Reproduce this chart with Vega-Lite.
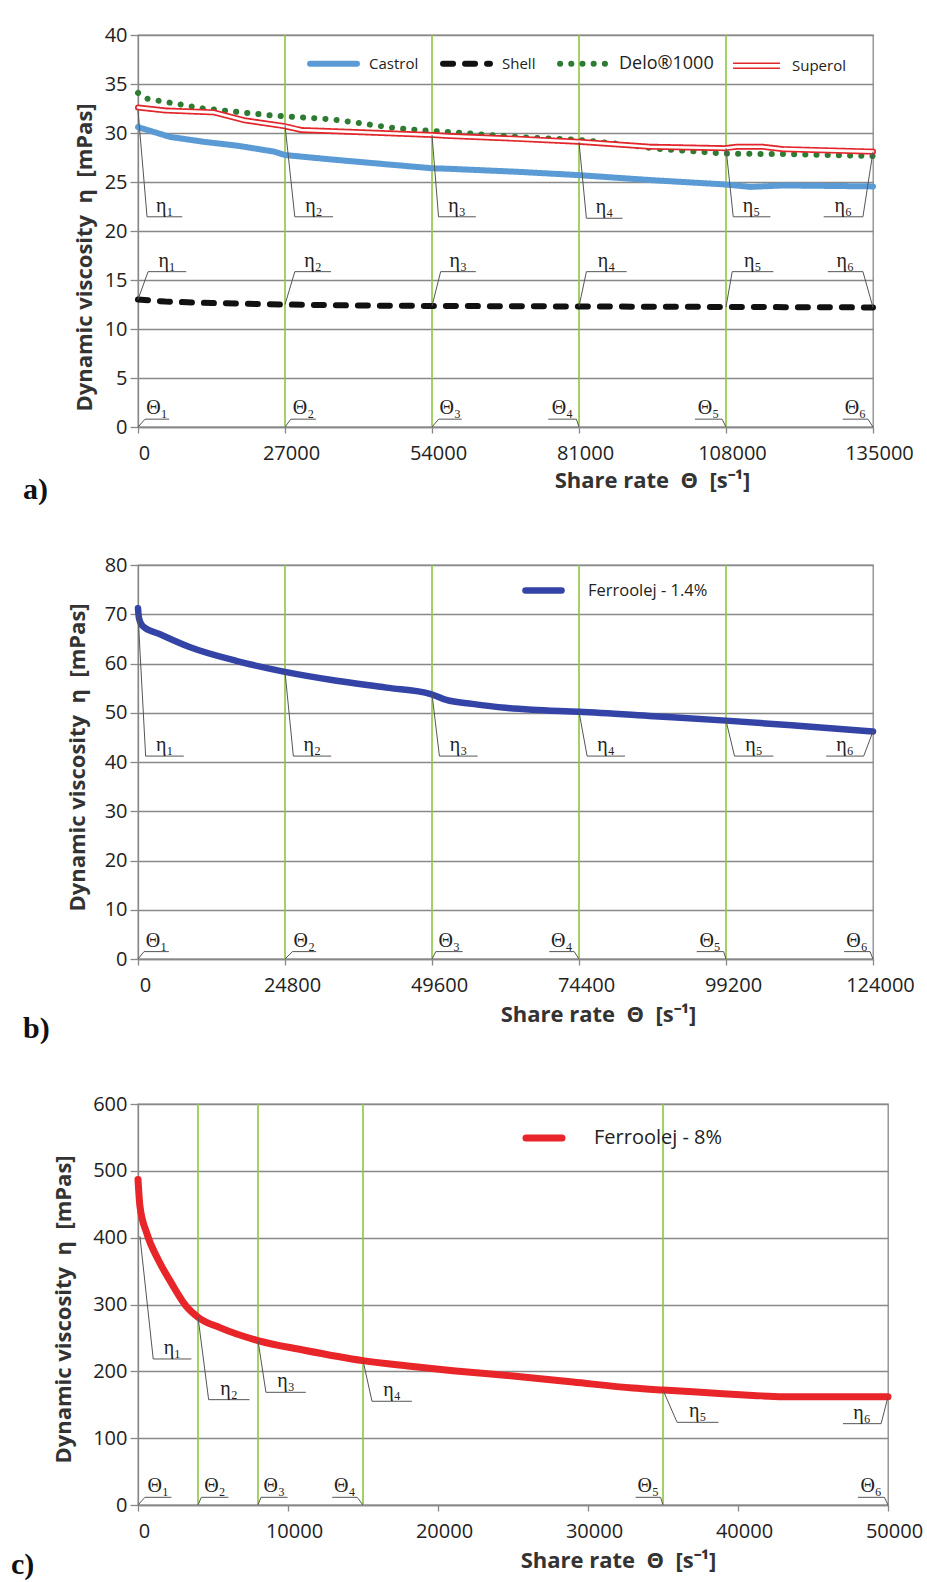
{
  "$schema": "https://vega.github.io/schema/vega-lite/v6.json",
  "background": "white",
  "padding": {"left": 10, "top": 24, "right": 0, "bottom": 0},
  "spacing": 48,
  "config": {
    "font": "Open Sans",
    "view": {"stroke": "#888", "strokeWidth": 1.3},
    "axis": {"gridColor": "#888", "gridWidth": 1.3, "domainColor": "#888", "domainWidth": 1.3, "tickColor": "#888", "tickWidth": 1.3, "tickSize": 6,
      "labelFont": "Open Sans", "labelFontSize": 20, "labelColor": "#222", "labelPadding": 10,
      "titleFont": "Open Sans", "titleFontSize": 22, "titleFontWeight": "bold", "titleColor": "#333"},
    "legend": {"orient": "none", "direction": "horizontal", "title": null, "padding": 0, "symbolType": "stroke", "labelFont": "Open Sans", "labelColor": "#222"}
  },
  "resolve": {"scale": {"x": "independent", "y": "independent", "color": "independent", "strokeDash": "independent"}},
  "datasets": {
    "a_green": [{"x": 27000}, {"x": 54000}, {"x": 81000}, {"x": 108000}],
    "b_green": [{"x": 24800}, {"x": 49600}, {"x": 74400}, {"x": 99200}],
    "c_green": [{"x": 4000}, {"x": 8000}, {"x": 15000}, {"x": 35000}],
    "a_curves": [
      {"s": "Castrol", "x": 0, "y": 30.6}, {"s": "Castrol", "x": 5900, "y": 29.6}, {"s": "Castrol", "x": 12100, "y": 29.1}, {"s": "Castrol", "x": 18300, "y": 28.7}, {"s": "Castrol", "x": 25000, "y": 28.1}, {"s": "Castrol", "x": 27000, "y": 27.75}, {"s": "Castrol", "x": 35500, "y": 27.3}, {"s": "Castrol", "x": 47800, "y": 26.7}, {"s": "Castrol", "x": 54000, "y": 26.4}, {"s": "Castrol", "x": 57000, "y": 26.35}, {"s": "Castrol", "x": 69400, "y": 26.05}, {"s": "Castrol", "x": 81000, "y": 25.7}, {"s": "Castrol", "x": 94000, "y": 25.2}, {"s": "Castrol", "x": 107800, "y": 24.75}, {"s": "Castrol", "x": 112500, "y": 24.5}, {"s": "Castrol", "x": 118600, "y": 24.65}, {"s": "Castrol", "x": 135000, "y": 24.55},
      {"s": "Shell", "x": 0, "y": 13.0}, {"s": "Shell", "x": 5000, "y": 12.8}, {"s": "Shell", "x": 13500, "y": 12.65}, {"s": "Shell", "x": 27000, "y": 12.5}, {"s": "Shell", "x": 40000, "y": 12.4}, {"s": "Shell", "x": 54000, "y": 12.35}, {"s": "Shell", "x": 81000, "y": 12.3}, {"s": "Shell", "x": 108000, "y": 12.25}, {"s": "Shell", "x": 135000, "y": 12.2},
      {"s": "Delo®1000", "x": 0, "y": 34.1}, {"s": "Delo®1000", "x": 1700, "y": 33.5}, {"s": "Delo®1000", "x": 12000, "y": 32.5}, {"s": "Delo®1000", "x": 24400, "y": 31.8}, {"s": "Delo®1000", "x": 35500, "y": 31.4}, {"s": "Delo®1000", "x": 47200, "y": 30.5}, {"s": "Delo®1000", "x": 54000, "y": 30.2}, {"s": "Delo®1000", "x": 57000, "y": 30.1}, {"s": "Delo®1000", "x": 69400, "y": 29.6}, {"s": "Delo®1000", "x": 81000, "y": 29.3}, {"s": "Delo®1000", "x": 88000, "y": 28.9}, {"s": "Delo®1000", "x": 95200, "y": 28.4}, {"s": "Delo®1000", "x": 107800, "y": 27.9}, {"s": "Delo®1000", "x": 118600, "y": 27.85}, {"s": "Delo®1000", "x": 135000, "y": 27.65},
      {"s": "Superol", "x": 0, "y": 32.6}, {"s": "Superol", "x": 5000, "y": 32.3}, {"s": "Superol", "x": 14000, "y": 32.1}, {"s": "Superol", "x": 19500, "y": 31.3}, {"s": "Superol", "x": 26900, "y": 30.7}, {"s": "Superol", "x": 30000, "y": 30.3}, {"s": "Superol", "x": 40000, "y": 30.1}, {"s": "Superol", "x": 54000, "y": 29.8}, {"s": "Superol", "x": 57000, "y": 29.7}, {"s": "Superol", "x": 70000, "y": 29.4}, {"s": "Superol", "x": 81000, "y": 29.1}, {"s": "Superol", "x": 94000, "y": 28.6}, {"s": "Superol", "x": 107800, "y": 28.45}, {"s": "Superol", "x": 110000, "y": 28.6}, {"s": "Superol", "x": 114600, "y": 28.6}, {"s": "Superol", "x": 118600, "y": 28.35}, {"s": "Superol", "x": 135000, "y": 28.1}
    ],
    "a_ann": [
      {"lab": "η₁", "x0": 0, "y0": 32.3, "x1": 1660, "y1": 21.45, "x2": 8130, "tx": 4900},
      {"lab": "η₂", "x0": 27000, "y0": 30.8, "x1": 28800, "y1": 21.45, "x2": 35830, "tx": 32300},
      {"lab": "η₃", "x0": 54000, "y0": 29.8, "x1": 55200, "y1": 21.45, "x2": 62050, "tx": 58600},
      {"lab": "η₄", "x0": 81000, "y0": 29.1, "x1": 82360, "y1": 21.3, "x2": 89000, "tx": 85700},
      {"lab": "η₅", "x0": 108000, "y0": 28.45, "x1": 109330, "y1": 21.45, "x2": 116160, "tx": 112700},
      {"lab": "η₆", "x0": 135000, "y0": 28.1, "x1": 133150, "y1": 21.45, "x2": 125950, "tx": 129550},
      {"lab": "η₁", "x0": 0, "y0": 13.0, "x1": 1850, "y1": 15.85, "x2": 8860, "tx": 5350},
      {"lab": "η₂", "x0": 27000, "y0": 12.5, "x1": 28800, "y1": 15.85, "x2": 35460, "tx": 32130},
      {"lab": "η₃", "x0": 54000, "y0": 12.35, "x1": 55590, "y1": 15.85, "x2": 62050, "tx": 58820},
      {"lab": "η₄", "x0": 81000, "y0": 12.3, "x1": 82360, "y1": 15.85, "x2": 89750, "tx": 86050},
      {"lab": "η₅", "x0": 108000, "y0": 12.25, "x1": 109140, "y1": 15.85, "x2": 116710, "tx": 112920},
      {"lab": "η₆", "x0": 135000, "y0": 12.2, "x1": 133150, "y1": 15.85, "x2": 126690, "tx": 129920},
      {"lab": "Θ₁", "x0": 0, "y0": 0, "x1": 1290, "y1": 0.8, "x2": 5720, "tx": 3500},
      {"lab": "Θ₂", "x0": 27000, "y0": 0, "x1": 28070, "y1": 0.8, "x2": 32690, "tx": 30380},
      {"lab": "Θ₃", "x0": 54000, "y0": 0, "x1": 55220, "y1": 0.8, "x2": 59460, "tx": 57340},
      {"lab": "Θ₄", "x0": 81000, "y0": 0, "x1": 80520, "y1": 0.8, "x2": 75350, "tx": 77940},
      {"lab": "Θ₅", "x0": 108000, "y0": 0, "x1": 107290, "y1": 0.8, "x2": 102300, "tx": 104800},
      {"lab": "Θ₆", "x0": 135000, "y0": 0, "x1": 134070, "y1": 0.8, "x2": 129450, "tx": 131760}
    ],
    "b_curves": [
      {"s": "Ferroolej - 1.4%", "x": 0, "y": 71.2}, {"s": "Ferroolej - 1.4%", "x": 150, "y": 69.3}, {"s": "Ferroolej - 1.4%", "x": 800, "y": 67.6}, {"s": "Ferroolej - 1.4%", "x": 3800, "y": 65.9}, {"s": "Ferroolej - 1.4%", "x": 8800, "y": 63.3}, {"s": "Ferroolej - 1.4%", "x": 16700, "y": 60.5}, {"s": "Ferroolej - 1.4%", "x": 24800, "y": 58.3}, {"s": "Ferroolej - 1.4%", "x": 33500, "y": 56.5}, {"s": "Ferroolej - 1.4%", "x": 41900, "y": 55.1}, {"s": "Ferroolej - 1.4%", "x": 49400, "y": 53.8}, {"s": "Ferroolej - 1.4%", "x": 52000, "y": 52.6}, {"s": "Ferroolej - 1.4%", "x": 56400, "y": 51.8}, {"s": "Ferroolej - 1.4%", "x": 62000, "y": 51.0}, {"s": "Ferroolej - 1.4%", "x": 66500, "y": 50.6}, {"s": "Ferroolej - 1.4%", "x": 74400, "y": 50.2}, {"s": "Ferroolej - 1.4%", "x": 87000, "y": 49.3}, {"s": "Ferroolej - 1.4%", "x": 99200, "y": 48.4}, {"s": "Ferroolej - 1.4%", "x": 111900, "y": 47.3}, {"s": "Ferroolej - 1.4%", "x": 124000, "y": 46.2}
    ],
    "b_ann": [
      {"lab": "η₁", "x0": 0, "y0": 70.0, "x1": 1290, "y1": 41.2, "x2": 7730, "tx": 4510},
      {"lab": "η₂", "x0": 24800, "y0": 58.3, "x1": 26210, "y1": 41.2, "x2": 32590, "tx": 29400},
      {"lab": "η₃", "x0": 49600, "y0": 53.8, "x1": 50850, "y1": 41.2, "x2": 57290, "tx": 54070},
      {"lab": "η₄", "x0": 74400, "y0": 50.2, "x1": 75770, "y1": 41.2, "x2": 82160, "tx": 78960},
      {"lab": "η₅", "x0": 99200, "y0": 48.4, "x1": 100640, "y1": 41.2, "x2": 107190, "tx": 103910},
      {"lab": "η₆", "x0": 124000, "y0": 46.2, "x1": 122430, "y1": 41.2, "x2": 116100, "tx": 119260},
      {"lab": "Θ₁", "x0": 0, "y0": 0, "x1": 1010, "y1": 1.5, "x2": 5210, "tx": 3110},
      {"lab": "Θ₂", "x0": 24800, "y0": 0, "x1": 26040, "y1": 1.5, "x2": 30070, "tx": 28050},
      {"lab": "Θ₃", "x0": 49600, "y0": 0, "x1": 50240, "y1": 1.5, "x2": 54770, "tx": 52500},
      {"lab": "Θ₄", "x0": 74400, "y0": 0, "x1": 73590, "y1": 1.5, "x2": 69390, "tx": 71490},
      {"lab": "Θ₅", "x0": 99200, "y0": 0, "x1": 98790, "y1": 1.5, "x2": 94250, "tx": 96520},
      {"lab": "Θ₆", "x0": 124000, "y0": 0, "x1": 123500, "y1": 1.5, "x2": 119120, "tx": 121310}
    ],
    "c_curves": [
      {"s": "Ferroolej - 8%", "x": 0, "y": 487}, {"s": "Ferroolej - 8%", "x": 130, "y": 447}, {"s": "Ferroolej - 8%", "x": 580, "y": 407}, {"s": "Ferroolej - 8%", "x": 1350, "y": 367}, {"s": "Ferroolej - 8%", "x": 2230, "y": 332}, {"s": "Ferroolej - 8%", "x": 3230, "y": 297}, {"s": "Ferroolej - 8%", "x": 4000, "y": 281}, {"s": "Ferroolej - 8%", "x": 5500, "y": 265}, {"s": "Ferroolej - 8%", "x": 8000, "y": 246}, {"s": "Ferroolej - 8%", "x": 11000, "y": 232}, {"s": "Ferroolej - 8%", "x": 15000, "y": 216}, {"s": "Ferroolej - 8%", "x": 18000, "y": 208}, {"s": "Ferroolej - 8%", "x": 21000, "y": 201}, {"s": "Ferroolej - 8%", "x": 25000, "y": 193}, {"s": "Ferroolej - 8%", "x": 29000, "y": 184}, {"s": "Ferroolej - 8%", "x": 33000, "y": 175}, {"s": "Ferroolej - 8%", "x": 35000, "y": 172}, {"s": "Ferroolej - 8%", "x": 38000, "y": 168}, {"s": "Ferroolej - 8%", "x": 41000, "y": 164}, {"s": "Ferroolej - 8%", "x": 43000, "y": 162}, {"s": "Ferroolej - 8%", "x": 50000, "y": 162}
    ],
    "c_ann": [
      {"lab": "η₁", "x0": 130, "y0": 402, "x1": 1015, "y1": 218.5, "x2": 3560, "tx": 2290},
      {"lab": "η₂", "x0": 4000, "y0": 281, "x1": 4710, "y1": 157.6, "x2": 7430, "tx": 6070},
      {"lab": "η₃", "x0": 8000, "y0": 246, "x1": 8530, "y1": 168.6, "x2": 11190, "tx": 9860},
      {"lab": "η₄", "x0": 15000, "y0": 216, "x1": 15600, "y1": 155.2, "x2": 18260, "tx": 16930},
      {"lab": "η₅", "x0": 35000, "y0": 172, "x1": 35940, "y1": 123.7, "x2": 38700, "tx": 37320},
      {"lab": "η₆", "x0": 50000, "y0": 162, "x1": 49540, "y1": 121.7, "x2": 47000, "tx": 48270},
      {"lab": "Θ₁", "x0": 0, "y0": 0, "x1": 460, "y1": 11.5, "x2": 2230, "tx": 1345},
      {"lab": "Θ₂", "x0": 4000, "y0": 0, "x1": 4220, "y1": 11.5, "x2": 6030, "tx": 5125},
      {"lab": "Θ₃", "x0": 8000, "y0": 0, "x1": 8200, "y1": 11.5, "x2": 9970, "tx": 9085},
      {"lab": "Θ₄", "x0": 15000, "y0": 0, "x1": 14610, "y1": 11.5, "x2": 12950, "tx": 13780},
      {"lab": "Θ₅", "x0": 35000, "y0": 0, "x1": 34840, "y1": 11.5, "x2": 33180, "tx": 34010},
      {"lab": "Θ₆", "x0": 50000, "y0": 0, "x1": 49760, "y1": 11.5, "x2": 47990, "tx": 48875}
    ]
  },
  "vconcat": [
    {
      "width": 735, "height": 392,
      "title": {"text": "a)", "orient": "bottom", "anchor": "start", "frame": "group", "font": "Liberation Serif", "fontSize": 30, "fontWeight": "bold", "color": "#111", "dx": -115, "offset": -16},
      "layer": [
        {"data": {"name": "a_green"}, "mark": {"type": "rule", "color": "#8DC63F", "strokeWidth": 1.6},
          "encoding": {
            "x": {"field": "x", "type": "quantitative", "title": "Share rate\u00a0\u00a0Θ\u00a0\u00a0[s⁻¹]", "scale": {"domain": [0, 135000], "nice": false, "zero": false},
              "axis": {"values": [0, 27000, 54000, 81000, 108000, 135000], "format": "d", "grid": false, "labelFlush": false, "labelOverlap": false, "labelOffset": 6, "titleX": 514, "titleY": 53, "titleAlign": "center", "titleBaseline": "middle"}}
          }},
        {"data": {"name": "a_curves"}, "mark": {"type": "line", "strokeWidth": 6, "strokeCap": "round", "strokeJoin": "round"},
          "encoding": {
            "x": {"field": "x", "type": "quantitative", "title": "Share rate\u00a0\u00a0Θ\u00a0\u00a0[s⁻¹]"},
            "y": {"field": "y", "type": "quantitative", "title": "Dynamic viscosity\u00a0\u00a0η\u00a0\u00a0[mPas]", "scale": {"domain": [0, 40], "nice": false, "zero": false},
              "axis": {"values": [0, 5, 10, 15, 20, 25, 30, 35, 40], "tickSize": 8, "labelPadding": 3, "titleX": -54, "titleY": 222, "titleAlign": "center", "titleBaseline": "middle"}},
            "color": {"field": "s", "type": "nominal", "sort": ["Castrol", "Shell", "Delo®1000", "Superol"],
              "scale": {"domain": ["Castrol", "Shell", "Delo®1000", "Superol"], "range": ["#5B9BD5", "#111111", "#2E7B32", "#E3262B"]},
              "legend": {"legendX": 169, "legendY": 2, "symbolSize": 2200, "symbolStrokeWidth": 6, "labelFontSize": 15, "labelOffset": 9, "columnPadding": 12,
                "encode": {"symbols": {"update": {"strokeCap": {"value": "round"}, "shape": {"signal": "datum.value === 'Superol' ? 'M-1.26,0M-1,-0.135H1V-0.075H-1ZM-1,0.075H1V0.135H-1Z' : 'stroke'"}, "fill": {"signal": "datum.value === 'Superol' ? '#E3262B' : 'transparent'"}, "strokeOpacity": {"signal": "datum.value === 'Superol' ? 0 : 1"}}}, "labels": {"update": {"fontSize": {"signal": "datum.value === 'Delo®1000' ? 18 : 15"}}}}}},
            "strokeDash": {"field": "s", "type": "nominal", "sort": ["Castrol", "Shell", "Delo®1000", "Superol"],
              "scale": {"domain": ["Castrol", "Shell", "Delo®1000", "Superol"], "range": [[1, 0], [10, 12], [0.1, 11.1], [1, 0]]},
              "legend": {"legendX": 169, "legendY": 2, "symbolSize": 2200, "symbolStrokeWidth": 6, "labelFontSize": 15, "labelOffset": 9, "columnPadding": 12,
                "encode": {"symbols": {"update": {"strokeCap": {"value": "round"}, "shape": {"signal": "datum.value === 'Superol' ? 'M-1.26,0M-1,-0.135H1V-0.075H-1ZM-1,0.075H1V0.135H-1Z' : 'stroke'"}, "fill": {"signal": "datum.value === 'Superol' ? '#E3262B' : 'transparent'"}, "strokeOpacity": {"signal": "datum.value === 'Superol' ? 0 : 1"}}}, "labels": {"update": {"fontSize": {"signal": "datum.value === 'Delo®1000' ? 18 : 15"}}}}}}
          }},
        {"data": {"name": "a_curves"}, "transform": [{"filter": "datum.s === 'Superol'"}],
          "mark": {"type": "line", "strokeWidth": 2.6, "color": "white", "strokeCap": "round", "strokeJoin": "round"},
          "encoding": {
            "x": {"field": "x", "type": "quantitative", "title": "Share rate\u00a0\u00a0Θ\u00a0\u00a0[s⁻¹]"},
            "y": {"field": "y", "type": "quantitative", "title": "Dynamic viscosity\u00a0\u00a0η\u00a0\u00a0[mPas]"}
          }},
        {"data": {"name": "a_ann"}, "mark": {"type": "rule", "color": "#555", "strokeWidth": 1},
          "encoding": {
            "x": {"field": "x0", "type": "quantitative", "title": "Share rate\u00a0\u00a0Θ\u00a0\u00a0[s⁻¹]"}, "x2": {"field": "x1", "title": "Share rate\u00a0\u00a0Θ\u00a0\u00a0[s⁻¹]"},
            "y": {"field": "y0", "type": "quantitative", "title": "Dynamic viscosity\u00a0\u00a0η\u00a0\u00a0[mPas]"}, "y2": {"field": "y1", "title": "Dynamic viscosity\u00a0\u00a0η\u00a0\u00a0[mPas]"}
          }},
        {"data": {"name": "a_ann"}, "mark": {"type": "rule", "color": "#555", "strokeWidth": 1},
          "encoding": {
            "x": {"field": "x1", "type": "quantitative", "title": "Share rate\u00a0\u00a0Θ\u00a0\u00a0[s⁻¹]"}, "x2": {"field": "x2", "title": "Share rate\u00a0\u00a0Θ\u00a0\u00a0[s⁻¹]"},
            "y": {"field": "y1", "type": "quantitative", "title": "Dynamic viscosity\u00a0\u00a0η\u00a0\u00a0[mPas]"}
          }},
        {"data": {"name": "a_ann"}, "mark": {"type": "text", "font": "Liberation Serif", "fontSize": 20, "color": "#222", "baseline": "alphabetic", "dy": -5},
          "encoding": {
            "x": {"field": "tx", "type": "quantitative", "title": "Share rate\u00a0\u00a0Θ\u00a0\u00a0[s⁻¹]"},
            "y": {"field": "y1", "type": "quantitative", "title": "Dynamic viscosity\u00a0\u00a0η\u00a0\u00a0[mPas]"},
            "text": {"field": "lab"}
          }}
      ]
    },
    {
      "width": 735, "height": 394,
      "title": {"text": "b)", "orient": "bottom", "anchor": "start", "frame": "group", "font": "Liberation Serif", "fontSize": 30, "fontWeight": "bold", "color": "#111", "dx": -115, "offset": -11},
      "layer": [
        {"data": {"name": "b_green"}, "mark": {"type": "rule", "color": "#8DC63F", "strokeWidth": 1.6},
          "encoding": {
            "x": {"field": "x", "type": "quantitative", "title": "Share rate\u00a0\u00a0Θ\u00a0\u00a0[s⁻¹]", "scale": {"domain": [0, 124000], "nice": false, "zero": false},
              "axis": {"values": [0, 24800, 49600, 74400, 99200, 124000], "format": "d", "grid": false, "labelFlush": false, "labelOverlap": false, "labelOffset": 7, "titleX": 460, "titleY": 55, "titleAlign": "center", "titleBaseline": "middle"}}
          }},
        {"data": {"name": "b_curves"}, "mark": {"type": "line", "strokeWidth": 6.5, "strokeCap": "round", "strokeJoin": "round", "interpolate": "monotone"},
          "encoding": {
            "x": {"field": "x", "type": "quantitative", "title": "Share rate\u00a0\u00a0Θ\u00a0\u00a0[s⁻¹]"},
            "y": {"field": "y", "type": "quantitative", "title": "Dynamic viscosity\u00a0\u00a0η\u00a0\u00a0[mPas]", "scale": {"domain": [0, 80], "nice": false, "zero": false},
              "axis": {"values": [0, 10, 20, 30, 40, 50, 60, 70, 80], "tickSize": 8, "labelPadding": 3, "titleX": -61, "titleY": 192, "titleAlign": "center", "titleBaseline": "middle"}},
            "color": {"field": "s", "type": "nominal",
              "scale": {"domain": ["Ferroolej - 1.4%"], "range": ["#3343A6"]},
              "legend": {"legendX": 384, "legendY": 4, "symbolSize": 1300, "symbolStrokeWidth": 6.5, "labelFontSize": 16.5, "labelOffset": 23,
                "encode": {"symbols": {"update": {"strokeCap": {"value": "round"}}}}}}
          }},
        {"data": {"name": "b_ann"}, "mark": {"type": "rule", "color": "#555", "strokeWidth": 1},
          "encoding": {
            "x": {"field": "x0", "type": "quantitative", "title": "Share rate\u00a0\u00a0Θ\u00a0\u00a0[s⁻¹]"}, "x2": {"field": "x1", "title": "Share rate\u00a0\u00a0Θ\u00a0\u00a0[s⁻¹]"},
            "y": {"field": "y0", "type": "quantitative", "title": "Dynamic viscosity\u00a0\u00a0η\u00a0\u00a0[mPas]"}, "y2": {"field": "y1", "title": "Dynamic viscosity\u00a0\u00a0η\u00a0\u00a0[mPas]"}
          }},
        {"data": {"name": "b_ann"}, "mark": {"type": "rule", "color": "#555", "strokeWidth": 1},
          "encoding": {
            "x": {"field": "x1", "type": "quantitative", "title": "Share rate\u00a0\u00a0Θ\u00a0\u00a0[s⁻¹]"}, "x2": {"field": "x2", "title": "Share rate\u00a0\u00a0Θ\u00a0\u00a0[s⁻¹]"},
            "y": {"field": "y1", "type": "quantitative", "title": "Dynamic viscosity\u00a0\u00a0η\u00a0\u00a0[mPas]"}
          }},
        {"data": {"name": "b_ann"}, "mark": {"type": "text", "font": "Liberation Serif", "fontSize": 20, "color": "#222", "baseline": "alphabetic", "dy": -5},
          "encoding": {
            "x": {"field": "tx", "type": "quantitative", "title": "Share rate\u00a0\u00a0Θ\u00a0\u00a0[s⁻¹]"},
            "y": {"field": "y1", "type": "quantitative", "title": "Dynamic viscosity\u00a0\u00a0η\u00a0\u00a0[mPas]"},
            "text": {"field": "lab"}
          }}
      ]
    },
    {
      "width": 750, "height": 401,
      "title": {"text": "c)", "orient": "bottom", "anchor": "start", "frame": "group", "font": "Liberation Serif", "fontSize": 30, "fontWeight": "bold", "color": "#111", "dx": -127, "offset": -21},
      "layer": [
        {"data": {"name": "c_green"}, "mark": {"type": "rule", "color": "#8DC63F", "strokeWidth": 1.6},
          "encoding": {
            "x": {"field": "x", "type": "quantitative", "title": "Share rate\u00a0\u00a0Θ\u00a0\u00a0[s⁻¹]", "scale": {"domain": [0, 50000], "nice": false, "zero": false},
              "axis": {"values": [0, 10000, 20000, 30000, 40000, 50000], "format": "d", "grid": false, "labelFlush": false, "labelOverlap": false, "labelOffset": 6, "titleX": 480, "titleY": 55, "titleAlign": "center", "titleBaseline": "middle"}}
          }},
        {"data": {"name": "c_curves"}, "mark": {"type": "line", "strokeWidth": 7, "strokeCap": "round", "strokeJoin": "round", "interpolate": "monotone"},
          "encoding": {
            "x": {"field": "x", "type": "quantitative", "title": "Share rate\u00a0\u00a0Θ\u00a0\u00a0[s⁻¹]"},
            "y": {"field": "y", "type": "quantitative", "title": "Dynamic viscosity\u00a0\u00a0η\u00a0\u00a0[mPas]", "scale": {"domain": [0, 600], "nice": false, "zero": false},
              "axis": {"values": [0, 100, 200, 300, 400, 500, 600], "tickSize": 8, "labelPadding": 3, "titleX": -75, "titleY": 205, "titleAlign": "center", "titleBaseline": "middle"}},
            "color": {"field": "s", "type": "nominal",
              "scale": {"domain": ["Ferroolej - 8%"], "range": ["#E8262A"]},
              "legend": {"legendX": 384, "legendY": 12, "symbolSize": 1300, "symbolStrokeWidth": 7, "labelFontSize": 20, "labelOffset": 28,
                "encode": {"symbols": {"update": {"strokeCap": {"value": "round"}}}}}}
          }},
        {"data": {"name": "c_ann"}, "mark": {"type": "rule", "color": "#555", "strokeWidth": 1},
          "encoding": {
            "x": {"field": "x0", "type": "quantitative", "title": "Share rate\u00a0\u00a0Θ\u00a0\u00a0[s⁻¹]"}, "x2": {"field": "x1", "title": "Share rate\u00a0\u00a0Θ\u00a0\u00a0[s⁻¹]"},
            "y": {"field": "y0", "type": "quantitative", "title": "Dynamic viscosity\u00a0\u00a0η\u00a0\u00a0[mPas]"}, "y2": {"field": "y1", "title": "Dynamic viscosity\u00a0\u00a0η\u00a0\u00a0[mPas]"}
          }},
        {"data": {"name": "c_ann"}, "mark": {"type": "rule", "color": "#555", "strokeWidth": 1},
          "encoding": {
            "x": {"field": "x1", "type": "quantitative", "title": "Share rate\u00a0\u00a0Θ\u00a0\u00a0[s⁻¹]"}, "x2": {"field": "x2", "title": "Share rate\u00a0\u00a0Θ\u00a0\u00a0[s⁻¹]"},
            "y": {"field": "y1", "type": "quantitative", "title": "Dynamic viscosity\u00a0\u00a0η\u00a0\u00a0[mPas]"}
          }},
        {"data": {"name": "c_ann"}, "mark": {"type": "text", "font": "Liberation Serif", "fontSize": 20, "color": "#222", "baseline": "alphabetic", "dy": -5},
          "encoding": {
            "x": {"field": "tx", "type": "quantitative", "title": "Share rate\u00a0\u00a0Θ\u00a0\u00a0[s⁻¹]"},
            "y": {"field": "y1", "type": "quantitative", "title": "Dynamic viscosity\u00a0\u00a0η\u00a0\u00a0[mPas]"},
            "text": {"field": "lab"}
          }}
      ]
    }
  ]
}
